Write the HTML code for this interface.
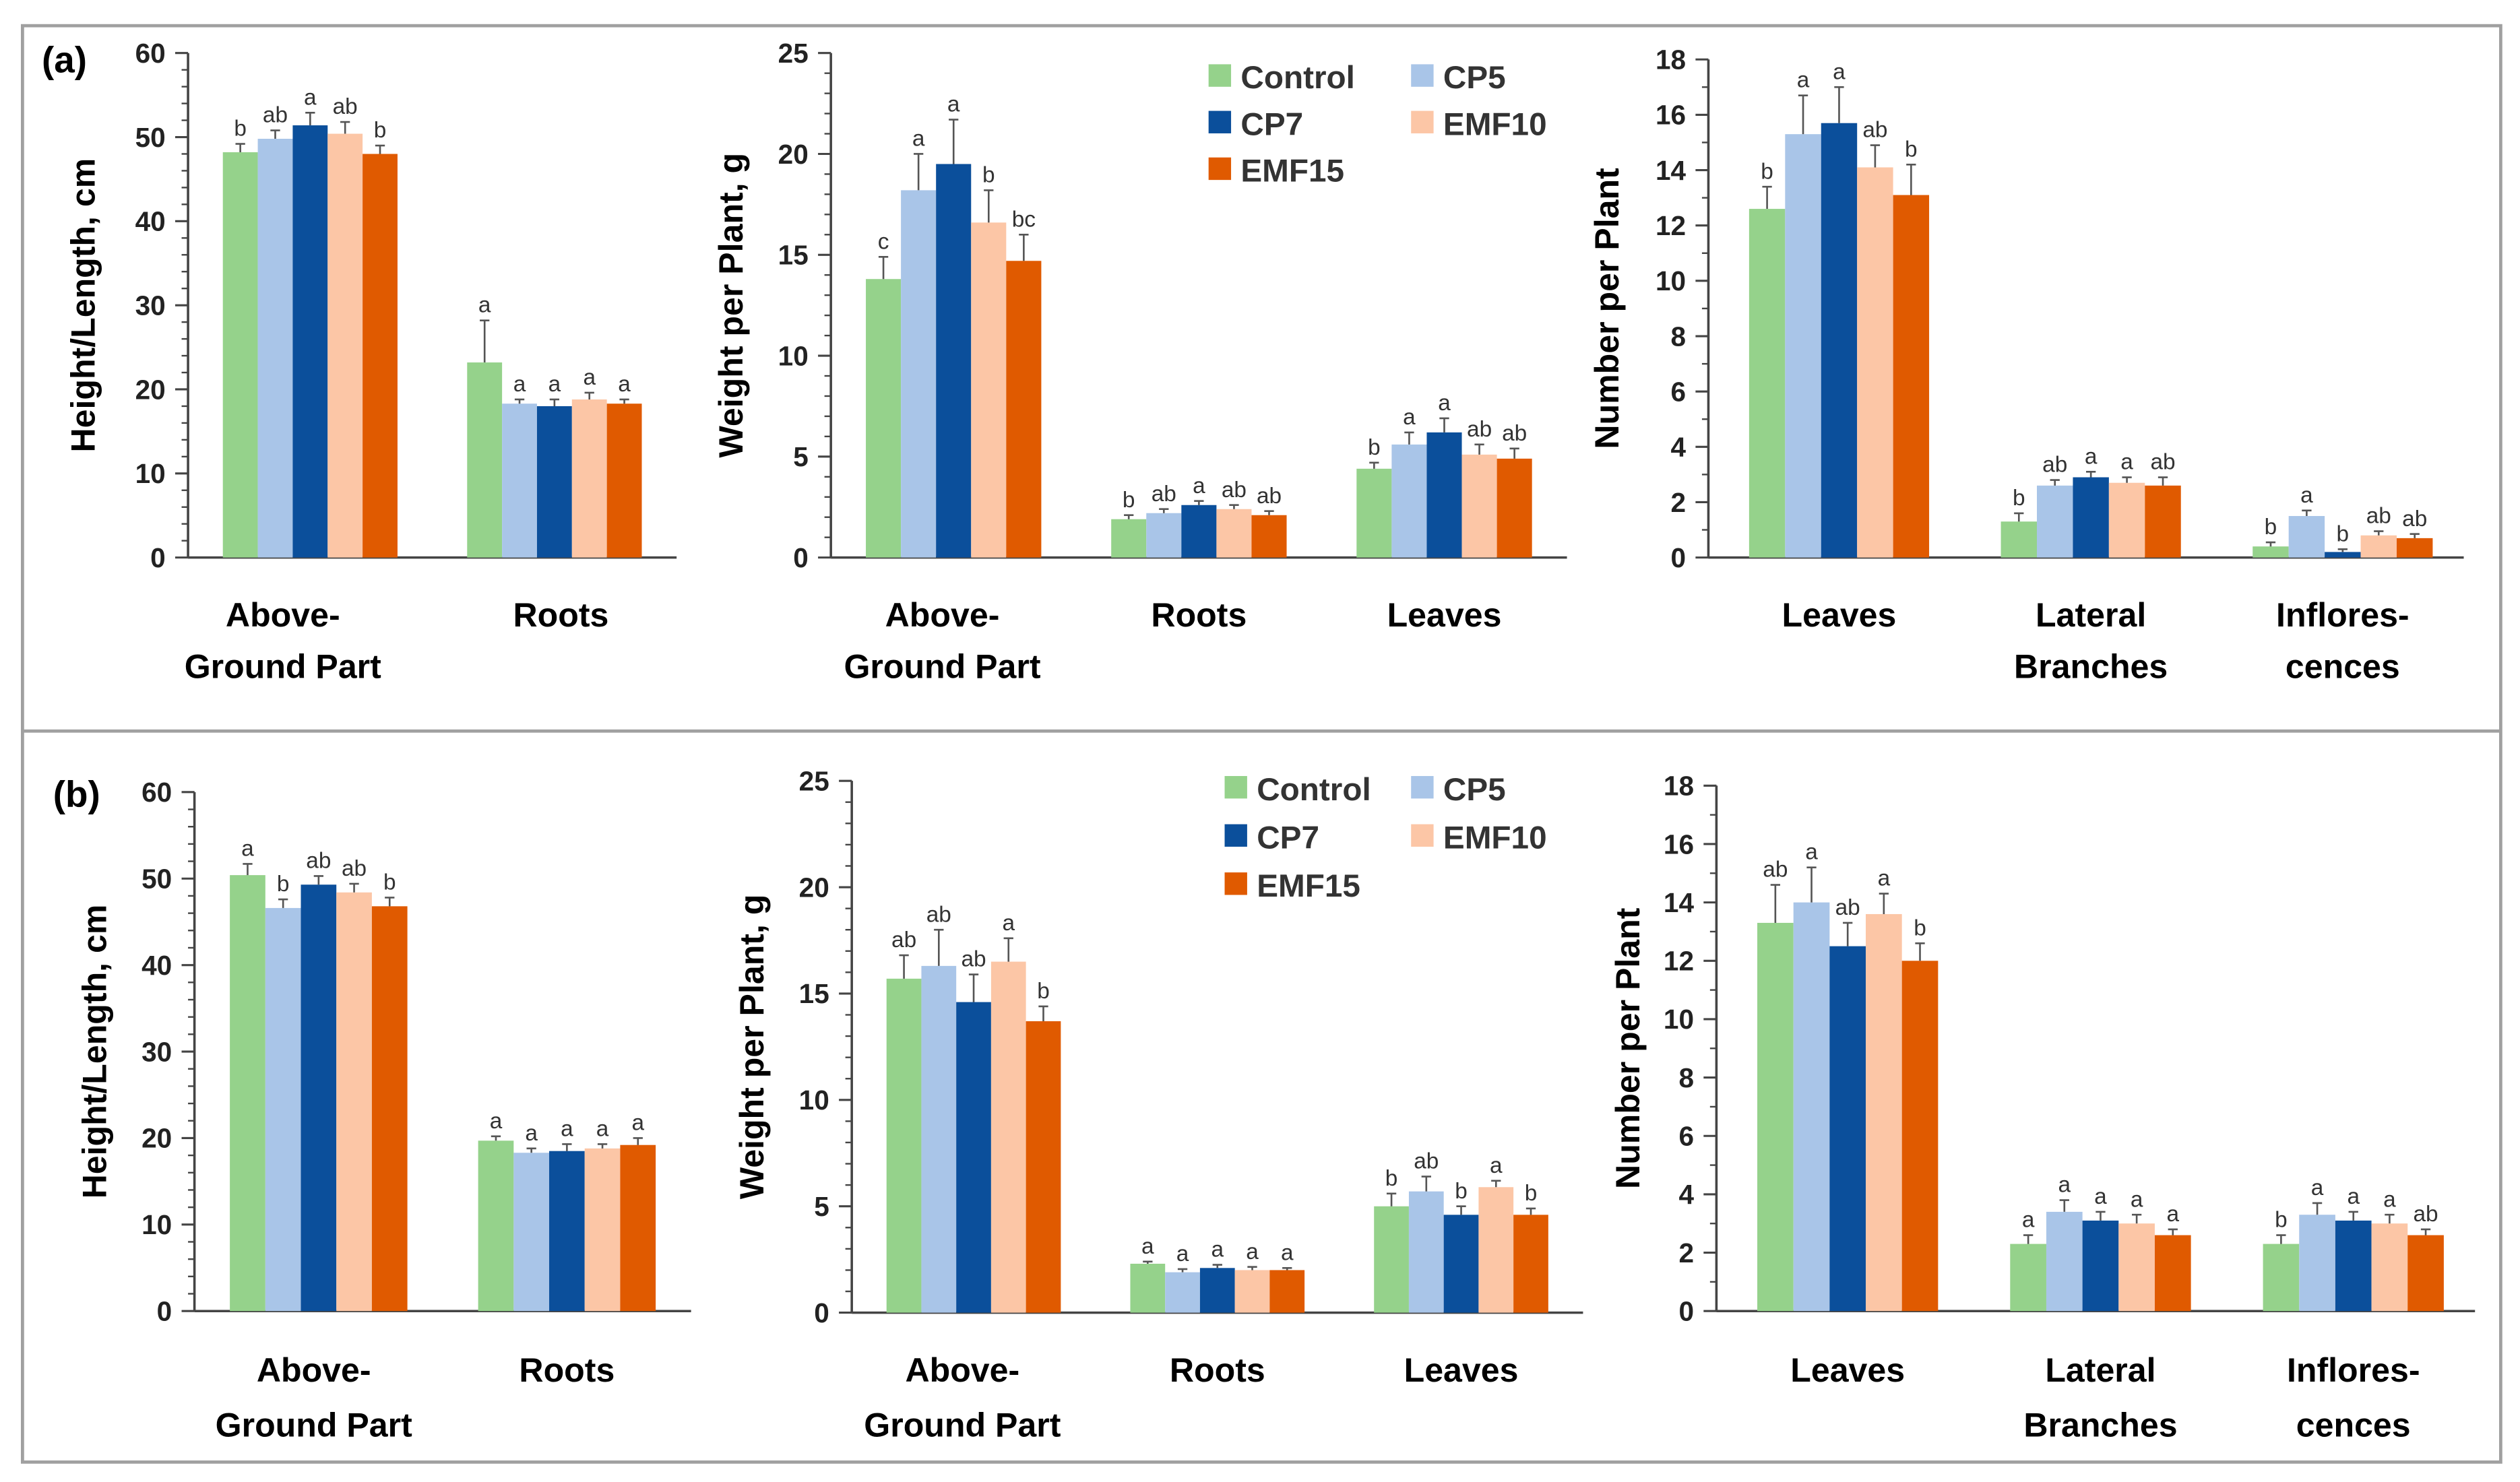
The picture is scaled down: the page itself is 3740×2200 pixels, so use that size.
<!DOCTYPE html>
<html><head><meta charset="utf-8">
<style>
html,body{margin:0;padding:0;background:#fff;}
svg{display:block;font-family:"Liberation Sans",sans-serif;}
</style></head>
<body>
<svg id="fig" width="3740" height="2200" viewBox="0 0 1568 922.4" preserveAspectRatio="none" xmlns="http://www.w3.org/2000/svg">
<rect x="14" y="16" width="1542" height="894" fill="#fff" stroke="#a0a0a0" stroke-width="2"/>
<line x1="14" y1="455" x2="1556" y2="455" stroke="#a0a0a0" stroke-width="2"/>
<text x="26" y="45" font-size="23" font-weight="bold">(a)</text>
<text x="33" y="502" font-size="23" font-weight="bold">(b)</text>
<g id="charts"></g>
</svg>
<script>
const series = ["Control","CP5","CP7","EMF10","EMF15"];
const colors = ["#95d28b","#a9c5e8","#0b4f9b","#fcc6a6","#e05a00"];

const a1Cats = [["Above-","Ground Part"],["Roots"]];
const a1Vals = [[48.2,49.8,51.4,50.4,48.0],[23.2,18.3,18.0,18.8,18.3]];
const a1Errs = [[1.0,1.0,1.5,1.4,1.0],[5.0,0.5,0.8,0.8,0.5]];
const a1Lets = [["b","ab","a","ab","b"],["a","a","a","a","a"]];

const a2Cats = [["Above-","Ground Part"],["Roots"],["Leaves"]];
const a2Vals = [[13.8,18.2,19.5,16.6,14.7],[1.9,2.2,2.6,2.4,2.1],[4.4,5.6,6.2,5.1,4.9]];
const a2Errs = [[1.1,1.8,2.2,1.6,1.3],[0.2,0.2,0.2,0.2,0.2],[0.3,0.6,0.7,0.5,0.5]];
const a2Lets = [["c","a","a","b","bc"],["b","ab","a","ab","ab"],["b","a","a","ab","ab"]];

const a3Cats = [["Leaves"],["Lateral","Branches"],["Inflores-","cences"]];
const a3Vals = [[12.6,15.3,15.7,14.1,13.1],[1.3,2.6,2.9,2.7,2.6],[0.4,1.5,0.2,0.8,0.7]];
const a3Errs = [[0.8,1.4,1.3,0.8,1.1],[0.3,0.2,0.2,0.2,0.3],[0.15,0.2,0.1,0.15,0.15]];
const a3Lets = [["b","a","a","ab","b"],["b","ab","a","a","ab"],["b","a","b","ab","ab"]];

const b1Vals = [[50.4,46.6,49.3,48.4,46.8],[19.7,18.3,18.5,18.8,19.2]];
const b1Errs = [[1.3,1.0,1.0,1.0,1.0],[0.5,0.5,0.8,0.5,0.8]];
const b1Lets = [["a","b","ab","ab","b"],["a","a","a","a","a"]];

const b2Vals = [[15.7,16.3,14.6,16.5,13.7],[2.3,1.9,2.1,2.0,2.0],[5.0,5.7,4.6,5.9,4.6]];
const b2Errs = [[1.1,1.7,1.3,1.1,0.7],[0.1,0.15,0.15,0.15,0.1],[0.6,0.7,0.4,0.3,0.3]];
const b2Lets = [["ab","ab","ab","a","b"],["a","a","a","a","a"],["b","ab","b","a","b"]];

const b3Vals = [[13.3,14.0,12.5,13.6,12.0],[2.3,3.4,3.1,3.0,2.6],[2.3,3.3,3.1,3.0,2.6]];
const b3Errs = [[1.3,1.2,0.8,0.7,0.6],[0.3,0.4,0.3,0.3,0.2],[0.3,0.4,0.3,0.3,0.2]];
const b3Lets = [["ab","a","ab","a","b"],["a","a","a","a","a"],["b","a","a","a","ab"]];

const NS="http://www.w3.org/2000/svg";
const root=document.getElementById('charts');
function mk(tag,attrs,parent,txt){const e=document.createElementNS(NS,tag);for(const k in attrs)e.setAttribute(k,attrs[k]);if(txt!==undefined)e.textContent=txt;(parent||root).appendChild(e);return e;}

function chart(cfg){
  const g=mk('g',{});
  
  
  const y=v=>cfg.y0-(v/cfg.max)*(cfg.y0-cfg.yTop);
  for(let v=0;v<=cfg.max+1e-9;v+=cfg.minor){
    const t=mk('line',{x1:cfg.x0-4,x2:cfg.x0,y1:y(v),y2:y(v),stroke:'#444','stroke-width':1},g);
    
    
  }
  for(let v=0;v<=cfg.max+1e-9;v+=cfg.step){
    const t=mk('line',{x1:cfg.x0-8,x2:cfg.x0,y1:y(v),y2:y(v),stroke:'#444','stroke-width':1.3},g);
    
    
    const l=mk('text',{x:cfg.x0-14,y:y(v)+6,'font-size':17,'font-weight':'bold','text-anchor':'end',fill:'#222'},g,String(v));
    
    
  }
  const ax=mk('line',{x1:cfg.x0,x2:cfg.x0,y1:cfg.yTop,y2:cfg.y0,stroke:'#444','stroke-width':1.5},g);
  
  
  const xa=mk('line',{x1:cfg.x0,x2:cfg.x1,y1:cfg.y0,y2:cfg.y0,stroke:'#444','stroke-width':1.5},g);
  
  
  const yt=mk('text',{x:0,y:0,'font-size':21,'font-weight':'bold','text-anchor':'middle',transform:`translate(${cfg.titleX},${(cfg.yTop+cfg.y0)/2}) rotate(-90)`},g,cfg.title);
  
  
  const n=cfg.cats.length, cw=(cfg.x1-cfg.x0)/n, bw=cw*0.143;
  cfg.cats.forEach((c,i)=>{
    const cx=cfg.x0+cw*(i+0.5)+cfg.shift;
    c.forEach((ln,k)=>{
      const t=mk('text',{x:cx+(cfg.catDx?cfg.catDx[i]:0),y:cfg.catY+k*cfg.catDy,'font-size':21,'font-weight':'bold','text-anchor':'middle'},g,ln);
      
      
    });
    cfg.vals[i].forEach((v,s)=>{
      const bx=cx+(s-2.5)*bw;
      const r=mk('rect',{x:bx,y:y(v),width:bw,height:cfg.y0-y(v),fill:colors[s]},g);
      
      
      const e=cfg.errs[i][s], ex=bx+bw/2, et=y(v+e);
      const el=mk('path',{d:`M${ex},${y(v)}V${et}M${ex-3},${et}H${ex+3}`,stroke:'#555','stroke-width':1.1,fill:'none'},g);
      
      
      const lt=mk('text',{x:ex,y:et-5,'font-size':14,'text-anchor':'middle',fill:'#333'},g,cfg.lets[i][s]);
      
      
    });
  });
}
function legend(x,y,x2,dy){
  const pos=[[x,y],[x2,y],[x,y+dy],[x2,y+dy],[x,y+2*dy]];
  series.forEach((s,i)=>{
    const r=mk('rect',{x:pos[i][0],y:pos[i][1]-8,width:14,height:14,fill:colors[i]});
    
    
    const t=mk('text',{x:pos[i][0]+20,y:pos[i][1]+7,'font-size':20,'font-weight':'bold',fill:'#333'},root,s);
    
    
  });
}
chart({name:'chart-a-height',x0:117,x1:421,yTop:33,y0:347,max:60,step:10,minor:2,title:'Height/Length, cm',titleX:59,cats:a1Cats,vals:a1Vals,errs:a1Errs,lets:a1Lets,catY:390,catDy:32,shift:0,catDx:[-17,4]});
chart({name:'chart-a-weight',x0:517,x1:975,yTop:33,y0:347,max:25,step:5,minor:1,title:'Weight per Plant, g',titleX:462,cats:a2Cats,vals:a2Vals,errs:a2Errs,lets:a2Lets,catY:390,catDy:32,shift:0,catDx:[-7,0,0]});
chart({name:'chart-a-number',x0:1063,x1:1533,yTop:37,y0:347,max:18,step:2,minor:1,title:'Number per Plant',titleX:1007,cats:a3Cats,vals:a3Vals,errs:a3Errs,lets:a3Lets,catY:390,catDy:32,shift:3,catDx:[0,0,0]});
chart({name:'chart-b-height',x0:121,x1:430,yTop:493,y0:816,max:60,step:10,minor:2,title:'Height/Length, cm',titleX:66,cats:a1Cats,vals:b1Vals,errs:b1Errs,lets:b1Lets,catY:860,catDy:34,shift:0,catDx:[-3,0]});
chart({name:'chart-b-weight',x0:530,x1:985,yTop:486,y0:817,max:25,step:5,minor:1,title:'Weight per Plant, g',titleX:475,cats:a2Cats,vals:b2Vals,errs:b2Errs,lets:b2Lets,catY:860,catDy:34,shift:0,catDx:[-7,0,0]});
chart({name:'chart-b-number',x0:1068,x1:1540,yTop:489,y0:816,max:18,step:2,minor:1,title:'Number per Plant',titleX:1020,cats:a3Cats,vals:b3Vals,errs:b3Errs,lets:b3Lets,catY:860,catDy:34,shift:3,catDx:[0,0,0]});
legend(752,48,878,29);
legend(762,491,878,30);
</script>
</body></html>
